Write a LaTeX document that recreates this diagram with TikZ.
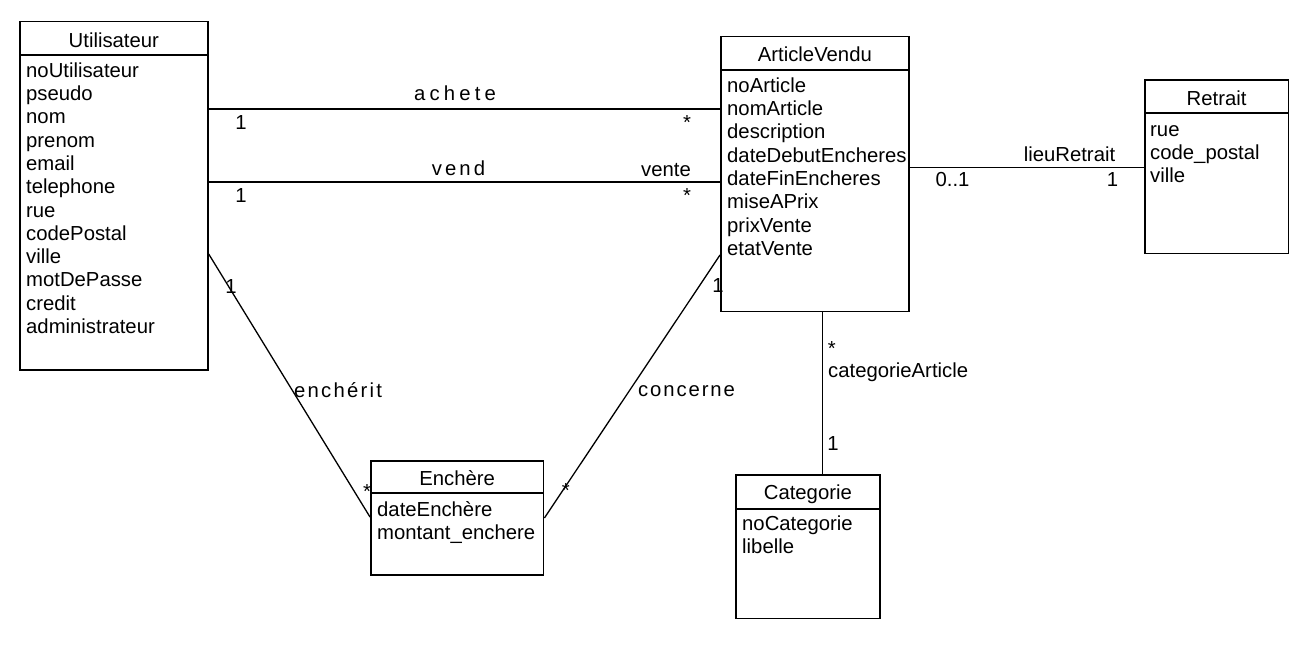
\documentclass[tikz,border=0pt]{standalone}
\usepackage{fontspec}
\setmainfont{Liberation Sans}
\newcommand{\dfont}{\fontsize{20.3}{23.3}\selectfont}
\newcommand{\lsp}[2]{{\addfontfeature{LetterSpace=#1}#2}}
\tikzset{
 cls/.style={draw, line width=1.7pt, inner sep=0pt, anchor=north west},
 ttl/.style={font=\dfont, anchor=base, inner sep=0pt},
 attr/.style={font=\dfont, align=left, anchor=north west, inner sep=0pt},
 lbl/.style={font=\dfont, anchor=base, inner sep=0pt},
 lblw/.style={font=\dfont, anchor=base west, inner sep=0pt},
 conn/.style={line width=1.3pt},
 sepline/.style={line width=1.7pt}
}
\begin{document}
\begin{tikzpicture}[x=1pt,y=-1pt]
\useasboundingbox (0,0) rectangle (1300,648);

% Utilisateur
\node[cls, minimum width=188pt, minimum height=348.5pt] (U) at (19,20.5) {};
\draw[sepline] (U.west |- 0,55) -- (U.east |- 0,55);
\node[ttl] (Ut) at (U.north |- 0,47.5) {Utilisateur};
\node[attr] (Ua) at (26,60.7) {\strut noUtilisateur\\pseudo\\nom\\prenom\\email\\telephone\\rue\\codePostal\\ville\\motDePasse\\credit\\administrateur};

% ArticleVendu
\node[cls, minimum width=188pt, minimum height=275pt] (A) at (720,35.7) {};
\draw[sepline] (A.west |- 0,70) -- (A.east |- 0,70);
\node[ttl] (At) at (A.north |- 0,61) {ArticleVendu};
\node[attr] (Aa) at (727,75.7) {\strut noArticle\\nomArticle\\description\\dateDebutEncheres\\dateFinEncheres\\miseAPrix\\prixVente\\etatVente};

% Retrait
\node[cls, minimum width=143.5pt, minimum height=173.7pt] (R) at (1144,79) {};
\draw[sepline] (R.west |- 0,113) -- (R.east |- 0,113);
\node[ttl] (Rt) at (R.north |- 0,105) {Retrait};
\node[attr] (Ra) at (1150,119.7) {\strut rue\\code\_postal\\ville};

% Enchere
\node[cls, minimum width=172.7pt, minimum height=114pt] (E) at (370,460) {};
\draw[sepline] (E.west |- 0,493) -- (E.east |- 0,493);
\node[ttl] (Et) at (E.north |- 0,485) {Enchère};
\node[attr] (Ea) at (377,499.7) {\strut dateEnchère\\montant\_enchere};

% Categorie
\node[cls, minimum width=144pt, minimum height=143.7pt] (C) at (735,474) {};
\draw[sepline] (C.west |- 0,509) -- (C.east |- 0,509);
\node[ttl] (Ct) at (C.north |- 0,499) {Categorie};
\node[attr] (Ca) at (742,513.7) {\strut noCategorie\\libelle};

% connectors
\draw[conn] (U.east |- 0,109) -- (A.west |- 0,109);
\draw[conn] (U.east |- 0,182) -- (A.west |- 0,182);
\draw[conn] (A.east |- 0,167.3) -- (R.west |- 0,167.3);
\draw[conn] (U.east |- 0,254) -- (E.west |- 0,517);
\draw[conn] (A.west |- 0,255) -- (E.east |- 0,518);
\draw[conn] (A.south -| 822.7,0) -- (C.north -| 822.7,0);

% labels
\node[lbl] (l1) at (455,100.7) {\lsp{20.7}{achete}};
\node[lbl] (l2) at (241,129) {1};
\node[lbl] (l3) at (687,129.2) {*};
\node[lbl] (l4) at (458.5,175.5) {\lsp{15}{vend}};
\node[lbl] (l5) at (666,176) {vente};
\node[lbl] (l6) at (241,202) {1};
\node[lbl] (l7) at (687,202) {*};
\node[lbl] (l8) at (1069.5,161.7) {lieuRetrait};
\node[lbl] (l9) at (952.5,186.7) {0..1};
\node[lbl] (l10) at (1112.5,186.7) {1};
\node[lbl] (l11) at (338,397) {\lsp{11}{enchérit}};
\node[lbl] (l12) at (231,293) {1};
\node[lbl] (l13) at (367,498.4) {*};
\node[lbl] (l14) at (686.5,396.7) {\lsp{9.5}{concerne}};
\node[lbl] (l15) at (718,292) {1};
\node[lbl] (l16) at (565.7,497.7) {*};
\node[lbl] (l17) at (831.7,355) {*};
\node[lblw] (l18) at (828,377.7) {categorieArticle};
\node[lbl] (l19) at (833,450) {1};
\end{tikzpicture}
\end{document}
